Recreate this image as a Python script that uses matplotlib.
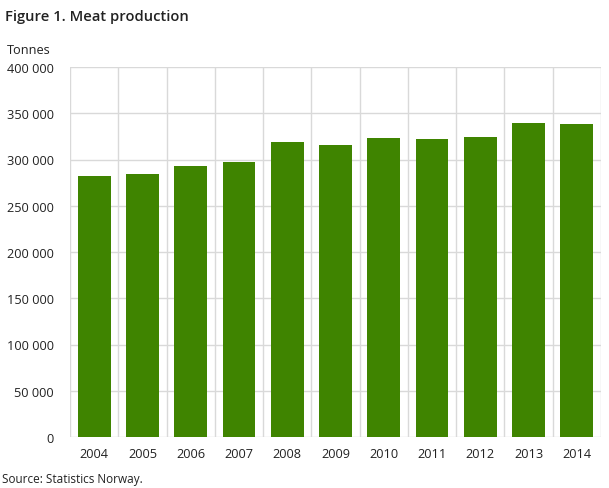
import matplotlib
matplotlib.use("Agg")
import matplotlib.pyplot as plt
from matplotlib.ticker import FuncFormatter, MultipleLocator

years = ["2004", "2005", "2006", "2007", "2008", "2009", "2010", "2011", "2012", "2013", "2014"]
production = [282000, 284300, 293000, 297300, 318900, 315700, 323200, 322200, 324300, 339500, 338400]

plt.rcParams['font.family'] = ['Open Sans', 'DejaVu Sans']

fig = plt.figure(figsize=(6.09, 4.89), dpi=100)
ax = fig.add_axes([70/609, 1-438/489, (601-70)/609, (438-68)/489])

x = list(range(len(years)))
ax.bar(x, production, width=0.68, color="#3f8400", zorder=3)

ax.set_xlim(-0.5, len(years)-0.5)
ax.set_ylim(0, 400000)
ax.yaxis.set_major_locator(MultipleLocator(50000))
ax.yaxis.set_major_formatter(FuncFormatter(lambda v, p: f"{int(v):,}".replace(",", " ")))
ax.set_xticks(x)
ax.set_xticklabels(years)
ax.set_xticks([i + 0.5 for i in range(-1, len(years))], minor=True)

ax.grid(axis="y", which="major", color="#d9d9d9", linewidth=1, zorder=0)
ax.grid(axis="x", which="minor", color="#d9d9d9", linewidth=1, zorder=0)
ax.grid(axis="x", which="major", visible=False)
for s in ax.spines.values():
    s.set_visible(False)
ax.tick_params(axis="both", which="both", length=0, labelsize=9.2, colors="#222222")
ax.tick_params(axis="x", pad=7)
ax.tick_params(axis="y", pad=11.5)

fig.text(5/609, 1-17/489, "Figure 1. Meat production", fontsize=10.6, fontweight="semibold",
         color="#222222", va="center", ha="left")
fig.text(7/609, 1-50/489, "Tonnes", fontsize=9.2, color="#222222", va="center", ha="left")
fig.text(2/609, 1-480/489, "Source: Statistics Norway.", fontsize=8.5, color="#222222", va="center", ha="left")

fig.savefig("out.png", dpi=100)
